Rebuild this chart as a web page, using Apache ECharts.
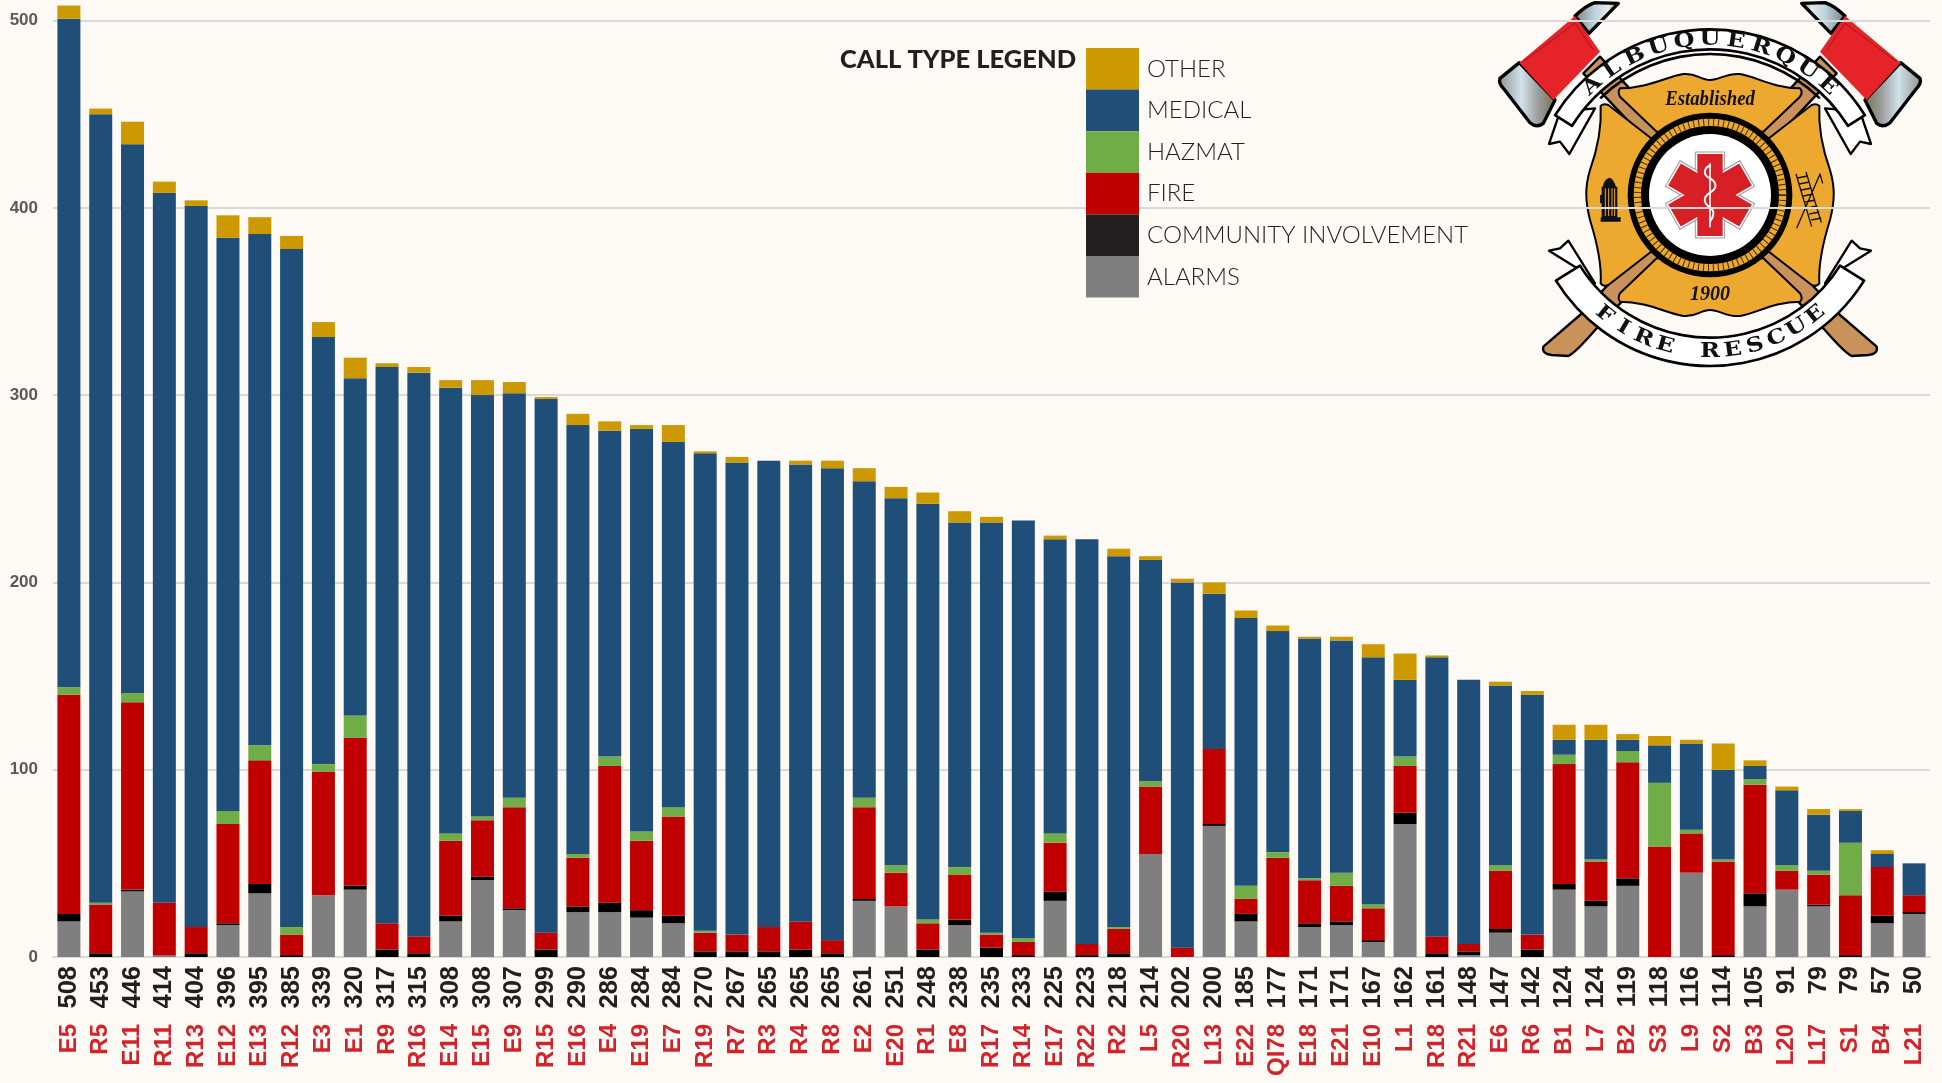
<!DOCTYPE html>
<html><head><meta charset="utf-8"><title>Albuquerque Fire Rescue call types</title>
<style>html,body{margin:0;padding:0;background:#fdfaf6;overflow:hidden}#c{width:1942px;height:1083px}</style>
<script src="https://cdn.jsdelivr.net/npm/echarts@6/dist/echarts.min.js"></script></head>
<body><div id="c"></div>
<script>
const units = ['E5','R5','E11','R11','R13','E12','E13','R12','E3','E1','R9','R16','E14','E15','E9','R15','E16','E4','E19','E7','R19','R7','R3','R4','R8','E2','E20','R1','E8','R17','R14','E17','R22','R2','L5','R20','L13','E22','QI78','E18','E21','E10','L1','R18','R21','E6','R6','B1','L7','B2','S3','L9','S2','B3','L20','L17','S1','B4','L21'];
const totals = ['508','453','446','414','404','396','395','385','339','320','317','315','308','308','307','299','290','286','284','284','270','267','265','265','265','261','251','248','238','235','233','225','223','218','214','202','200','185','177','171','171','167','162','161','148','147','142','124','124','119','118','116','114','105','91','79','79','57','50'];
const alarms =    [19,0,35,1,0,17,34,0,33,36,0,0,19,41,25,0,24,24,21,18,0,0,0,0,0,30,27,0,17,0,0,30,0,0,55,0,70,19,0,16,17,8,71,0,1,13,0,36,27,38,0,45,0,27,36,27,0,18,23];
const community = [4,2,1,0,2,1,5,1,0,2,4,2,3,2,1,4,3,5,4,4,3,3,3,4,2,1,0,4,3,5,1,5,1,2,0,0,1,4,0,2,2,1,6,2,2,2,4,3,3,4,0,0,1,7,0,1,1,4,1];
const fire =      [117,26,100,28,14,53,66,11,66,79,14,9,40,30,54,9,26,73,37,53,10,9,13,15,7,49,18,14,24,7,7,26,6,13,36,5,40,8,53,23,19,17,25,9,4,31,8,64,21,62,59,21,50,58,10,16,32,26,9];
const hazmat =    [4,1,5,0,0,7,8,4,4,12,0,0,4,2,5,0,2,5,5,5,1,0,0,0,0,5,4,2,4,1,2,5,0,1,3,0,0,7,3,1,7,2,5,0,0,3,0,5,1,6,34,2,1,3,3,2,28,0,0];
const medical =   [357,421,293,379,385,306,273,362,228,180,297,301,238,225,216,285,229,174,215,195,255,252,249,244,252,169,196,222,184,219,223,157,216,198,118,195,83,143,118,128,124,132,41,149,141,96,128,8,64,6,20,46,48,7,40,30,17,7,17];
const other =     [7,3,12,6,3,12,9,7,8,11,2,3,4,8,6,1,6,5,2,9,1,3,0,2,4,7,6,6,6,3,0,2,0,4,2,2,6,4,3,1,2,7,14,1,0,2,2,8,8,3,5,2,14,3,2,3,1,2,0];
const seriesNames = ['ALARMS','COMMUNITY INVOLVEMENT','FIRE','HAZMAT','MEDICAL','OTHER'];
const seriesValues = [alarms, community, fire, hazmat, medical, other];
const seriesColors = ['#7f7f7f','#000000','#c00000','#70ad47','#1f4e79','#cc9900'];
const legendOrder = ['OTHER','MEDICAL','HAZMAT','FIRE','COMMUNITY INVOLVEMENT','ALARMS'];
const yMax = 510, yStep = 100;

const GOLD='#eca82f', WOOD='#c9925a', RED='#e52328';
let shapeCount=0;
function P(d, fill, stroke, lw){
  const name='logoPath'+(shapeCount++);
  echarts.graphic.registerShape(name, echarts.graphic.extendPath(d,{}));
  return {type:name,style:{fill:fill,stroke:stroke||null,lineWidth:lw||0,lineJoin:'round'}};
}
function Circ(r, fill, stroke, lw, dash){return {type:'circle',shape:{cx:690,cy:585,r:r},style:{fill:fill,stroke:stroke||null,lineWidth:lw||0,lineDash:dash||null}};}
function band(cx,cy,r1,r2,a,sweepDown){
  const s=Math.sin(a),c=Math.cos(a),k=sweepDown?1:-1;
  const x1=cx-r1*s,y1=cy+k*r1*c,x2=cx+r1*s,x3=cx+r2*s,y3=cy+k*r2*c,x4=cx-r2*s;
  return 'M'+x1+' '+y1+' A'+r1+' '+r1+' 0 0 '+(sweepDown?0:1)+' '+x2+' '+y1+' L'+x3+' '+y3+' A'+r2+' '+r2+' 0 0 '+(sweepDown?1:0)+' '+x4+' '+y3+' Z';
}
function arcText(str,cx,cy,r,a,down,size){
  const out=[],n=str.length;
  for(let i=0;i<n;i++){
    if(str[i]===' ')continue;
    const t=-a+2*a*i/(n-1),x=cx+r*Math.sin(t),y=down?cy+r*Math.cos(t):cy-r*Math.cos(t);
    out.push({type:'text',x:x,y:y,scaleX:1.2,rotation:down?t:-t,style:{text:str[i],fontFamily:'"DejaVu Serif",serif',fontWeight:'bold',fontSize:size,fill:'#111',align:'center',verticalAlign:'middle'}});
  }
  return out;
}
const halfLogoBack=[
  P('M360 170 L1080 945 L1190 1040 Q1195 1062 1165 1065 L1115 1068 Q1095 1060 1030 985 L310 220 Z',WOOD,'#000',7)
];
const silverA={type:'linear',x:0,y:0,x2:1,y2:0,colorStops:[{offset:0,color:'#8f8f8f'},{offset:.4,color:'#cfe3ea'},{offset:.7,color:'#9a9a9a'},{offset:1,color:'#6f7448'}]};
const silverB={type:'linear',x:0,y:0,x2:1,y2:0,colorStops:[{offset:0,color:'#777'},{offset:.45,color:'#b9d4dd'},{offset:.75,color:'#e9e9e9'},{offset:1,color:'#777b4c'}]};
const halfLogoFront=[
  P('M118 188 L60 235 Q55 250 70 265 L150 368 Q170 385 190 370 L225 300 Z',silverA,'#000',10),
  P('M285 48 L327 100 L415 10 L345 8 Q320 15 285 48 Z',silverB,'#000',10),
  P('M285 48 L360 155 L220 300 L118 188 Z',RED),
  P('M130 185 L285 70 L340 150',null,'#7a1014',2),
  P('M207 432 L240 425 L268 462 L345 325 L240 335 Z','#fff','#000',7),
  P('M207 752 L240 745 L265 722 L345 850 L300 810 Z','#fff','#000',7)
];
const logo=[
  ...halfLogoBack,
  {type:'group',x:1380,scaleX:-1,children:halfLogoBack.map(e=>JSON.parse(JSON.stringify(e)))},
  ...halfLogoFront,
  {type:'group',x:1380,scaleX:-1,children:halfLogoFront.map(e=>JSON.parse(JSON.stringify(e)))},
  P('M420 265 C500 265 560 230 610 222 C650 218 660 240 690 240 C720 240 740 218 780 222 C830 230 880 265 960 265 Q970 275 960 290 L850 395 L530 395 L420 290 Q412 275 420 265 Z',GOLD,'#000',6),
  P('M420 905 C500 905 560 940 610 948 C650 952 660 930 690 930 C720 930 740 952 780 948 C830 940 880 905 960 905 Q970 895 960 880 L850 775 L530 775 L420 880 Q412 895 420 905 Z',GOLD,'#000',6),
  P('M362 318 C365 380 355 440 330 510 C315 560 315 600 330 660 C355 740 365 800 362 850 Q370 862 385 855 L520 750 L520 420 L385 315 Q370 310 362 318 Z',GOLD,'#000',6),
  P('M1018 318 C1015 380 1025 440 1050 510 C1065 560 1065 600 1050 660 C1025 740 1015 800 1018 850 Q1010 862 995 855 L860 750 L860 420 L995 315 Q1010 310 1018 318 Z',GOLD,'#000',6),
  Circ(247,'#000'),
  Circ(218,null,GOLD,22),
  Circ(218,null,'#3a2a00',22,[3,12]),
  Circ(203,'#000'),
  Circ(183,'#fff'),
  ...[0,60,120].map(d=>({type:'rect',x:690,y:585,rotation:d*Math.PI/180,shape:{x:-44,y:-129,width:88,height:258},style:{fill:'#fff',stroke:'#9a9a9a',lineWidth:3}})),
  ...[0,60,120].map(d=>({type:'rect',x:690,y:585,rotation:d*Math.PI/180,shape:{x:-38,y:-123,width:76,height:246},style:{fill:'#d71f26'}})),
  P('M690 490 L690 682',null,'#fff',5),
  P('M692 495 C670 505 668 525 690 535 C712 548 712 565 690 578 C668 592 670 610 690 622 C705 632 702 650 690 665',null,'#fff',6),
  P('M362 665 L422 665 L422 652 L412 652 L412 560 L408 560 Q400 535 388 533 Q372 538 368 560 L365 560 L365 585 L360 585 L360 610 L365 610 L365 652 L362 652 Z','#111'),
  P('M376 565 L376 648 M386 565 L386 648 M396 565 L396 648 M404 565 L404 648',null,GOLD,3),
  P('M948 522 L995 680 M978 516 L1024 668 M952 534 L982 528 M958 552 L988 546 M964 570 L994 564 M970 588 L1000 582 M976 606 L1006 600 M982 624 L1012 618 M988 642 L1018 636 M994 660 L1024 654 M950 685 L1020 522 L1028 550',null,'#111',4),
  P(band(690,636,548,488,58*Math.PI/180,false),'#fff','#000',8),
  P(band(690,636,478,470,44*Math.PI/180,false),'#000'),
  P(band(690,553,545,460,58*Math.PI/180,true),'#fff','#000',8),
  ...arcText('ALBUQUERQUE',690,636,517,43*Math.PI/180,false,60),
  ...arcText('FIRE RESCUE',690,553,503,39*Math.PI/180,true,60),
  {type:'text',x:690,y:298,scaleX:.88,style:{text:'Established',fontFamily:'"Liberation Serif",serif',fontStyle:'italic',fontWeight:'bold',fontSize:64,fill:'#111',align:'center',verticalAlign:'middle'}},
  {type:'text',x:690,y:885,style:{text:'1900',fontFamily:'"Liberation Serif",serif',fontStyle:'italic',fontWeight:'bold',fontSize:60,fill:'#111',align:'center',verticalAlign:'middle'}}
];

const chart=echarts.init(document.getElementById('c'),null,{renderer:'canvas'});
chart.setOption({
  animation:false,
  backgroundColor:'#fdfaf6',
  title:{text:'CALL TYPE LEGEND',left:840,top:47,padding:0,textStyle:{fontFamily:'Lato',fontWeight:'900',fontSize:25.5,color:'#231f20'}},
  legend:{
    left:1086,top:48,padding:0,orient:'vertical',itemWidth:53,itemHeight:41.6,itemGap:0,icon:'rect',selectedMode:false,
    textStyle:{fontFamily:'Lato',fontWeight:'300',fontSize:24,color:'#231f20',padding:[0,0,11,3]},
    data:legendOrder.map(n=>n==='COMMUNITY INVOLVEMENT'?{name:n,itemStyle:{color:'#231f20'}}:{name:n})
  },
  grid:{left:53,top:1.8,width:1877,height:955.2,containLabel:false},
  xAxis:[
    {type:'category',position:'bottom',data:totals,axisTick:{show:false},
     axisLine:{lineStyle:{color:'#d9d9d9',width:2}},
     axisLabel:{interval:0,rotate:90,margin:9,fontFamily:'"Liberation Sans",Arial,sans-serif',fontWeight:'bold',fontSize:25.5,color:'#231f20'}},
    {type:'category',position:'bottom',offset:67,data:units,axisTick:{show:false},axisLine:{show:false},
     axisLabel:{interval:0,rotate:90,margin:0,fontFamily:'"Liberation Sans",Arial,sans-serif',fontWeight:'bold',fontSize:24,color:'#d2232a'}}
  ],
  yAxis:{type:'value',min:0,max:yMax,interval:yStep,axisLine:{show:false},axisTick:{show:false},
    axisLabel:{showMaxLabel:false,margin:15,fontFamily:'"Liberation Sans",Arial,sans-serif',fontWeight:'bold',fontSize:17,color:'#595959'},
    splitLine:{showMaxLine:false,lineStyle:{color:'#d9d9d9',width:2}}},
  series:seriesNames.map((n,i)=>({name:n,type:'bar',stack:'calls',barWidth:23,xAxisIndex:0,data:seriesValues[i],itemStyle:{color:seriesColors[i]}})),
  graphic:[{type:'group',x:1480,y:0,scaleX:1/3,scaleY:1/3,z:100,children:logo}]
});
</script></body></html>
